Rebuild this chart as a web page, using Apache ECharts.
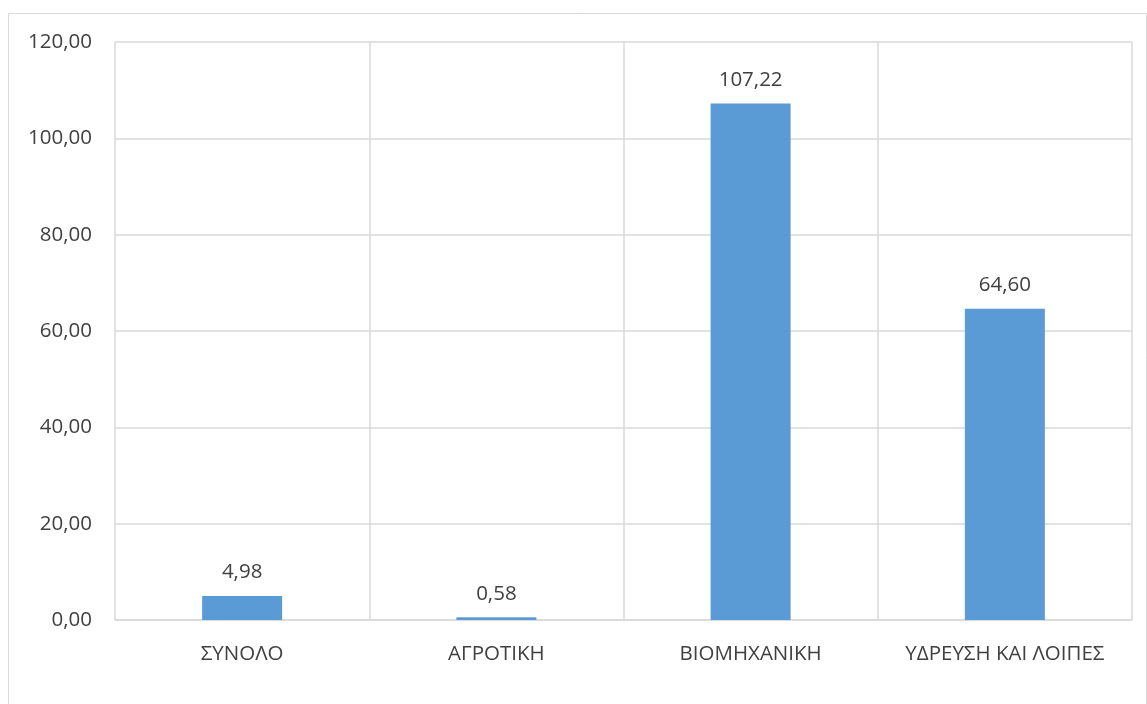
<!DOCTYPE html>
<html>
<head>
<meta charset="utf-8">
<script src="https://cdn.jsdelivr.net/npm/echarts@6/dist/echarts.min.js"></script>
<style>
html,body{margin:0;padding:0;background:#fff;}
#chart{width:1147px;height:704px;}
</style>
</head>
<body>
<div id="chart"></div>
<script>
const categories = ['ΣΥΝΟΛΟ', 'ΑΓΡΟΤΙΚΗ', 'ΒΙΟΜΗΧΑΝΙΚΗ', 'ΥΔΡΕΥΣΗ ΚΑΙ ΛΟΙΠΕΣ'];
const values = [4.98, 0.58, 107.22, 64.60];
const yTicks = [0, 20, 40, 60, 80, 100, 120];

const fmt = v => Number(v).toFixed(2).replace('.', ',');
const font = '"Open Sans", "Noto Sans", sans-serif';
const textColor = '#404040';
const gridColor = '#d9d9d9';

const chart = echarts.init(document.getElementById('chart'), null, {renderer: 'canvas'});
chart.setOption({
  animation: false,
  backgroundColor: '#fff',
  graphic: [{
    type: 'rect',
    shape: {x: 8.5, y: 13.5, width: 1138, height: 720},
    style: {fill: 'none', stroke: gridColor, lineWidth: 1},
    silent: true
  }],
  grid: {left: 115, right: 15, top: 42, bottom: 84, containLabel: false},
  xAxis: {
    type: 'category',
    data: categories,
    axisLine: {show: true, lineStyle: {color: gridColor, width: 1.5}},
    axisTick: {show: false, interval: 0},
    splitLine: {show: true, interval: 0, lineStyle: {color: gridColor, width: 1.5}},
    axisLabel: {color: textColor, fontFamily: font, fontSize: 20.5, margin: 24, interval: 0, hideOverlap: false}
  },
  yAxis: {
    type: 'value',
    min: yTicks[0],
    max: yTicks[yTicks.length - 1],
    interval: 20,
    axisLine: {show: false},
    axisTick: {show: false},
    splitLine: {show: true, lineStyle: {color: gridColor, width: 1.5}},
    axisLabel: {color: textColor, fontFamily: font, fontSize: 20.5, margin: 23, formatter: fmt}
  },
  series: [{
    type: 'bar',
    data: values,
    barWidth: 80,
    itemStyle: {color: '#5b9bd5'},
    label: {
      show: true,
      position: 'top',
      distance: 13,
      color: textColor,
      fontFamily: font,
      fontSize: 20.5,
      formatter: p => fmt(p.value)
    }
  }]
});
</script>
</body>
</html>
